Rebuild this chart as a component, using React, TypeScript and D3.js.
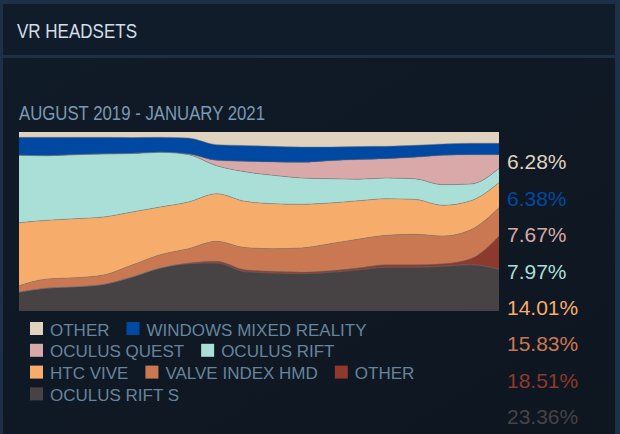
import React, { useRef, useEffect } from 'react';
import * as d3 from 'd3';

// monthly Steam survey points, Aug 2019 .. Jan 2021
const months = [
  'Aug 2019', 'Sep 2019', 'Oct 2019', 'Nov 2019', 'Dec 2019', 'Jan 2020',
  'Feb 2020', 'Mar 2020', 'Apr 2020', 'May 2020', 'Jun 2020', 'Jul 2020',
  'Aug 2020', 'Sep 2020', 'Oct 2020', 'Nov 2020', 'Dec 2020', 'Jan 2021',
];

// shares in percent, one value per month
const otherTop = [2.96, 2.96, 2.96, 2.96, 3.07, 2.96, 3.35, 7.09, 7.54, 7.99, 8.38, 8.38, 8.1, 7.99, 7.43, 6.7, 6.31, 6.28];
const wmr = [10.06, 10.28, 9.72, 9.33, 8.94, 8.38, 8.94, 8.72, 8.83, 8.77, 8.55, 7.65, 7.26, 6.93, 6.7, 6.31, 6.37, 6.38];
const quest = [0, 0, 0, 0, 0, 0, 0.39, 3.02, 5.87, 7.43, 8.77, 10.06, 11.01, 10.78, 11.96, 16.42, 16.37, 7.67];
const rift = [37.65, 36.09, 35.75, 35.2, 32.68, 30.56, 26.42, 15.64, 16.48, 15.87, 14.69, 13.58, 12.07, 11.56, 11.51, 11.51, 9.33, 7.97];
const htcVive = [35.2, 32.79, 32.96, 32.4, 29.61, 26.65, 26.09, 26.59, 25.87, 25.14, 24.41, 22.74, 21.51, 20.45, 19.55, 17.15, 16.2, 14.01];
const valveIndex = [3.52, 5.03, 5.03, 5.2, 6.7, 7.43, 7.99, 11.17, 12.35, 12.63, 13.41, 15.08, 16.03, 16.42, 16.98, 15.47, 16.2, 15.83];
const otherRed = [0, 0, 0, 0, 0, 0, 0.39, 0.95, 1.06, 0.95, 0.95, 0.89, 1.12, 1.45, 1.45, 1.45, 3.35, 18.51];
const riftS = [10.61, 12.85, 13.58, 14.92, 18.99, 24.02, 26.42, 26.82, 22.01, 21.23, 20.84, 21.62, 22.91, 24.41, 24.41, 24.97, 25.87, 23.36];

// top of the stack first (legend + right hand labels order)
const seriesKeys = ['otherTop', 'wmr', 'quest', 'rift', 'htcVive', 'valveIndex', 'otherRed', 'riftS'];
const seriesNames = ['OTHER', 'WINDOWS MIXED REALITY', 'OCULUS QUEST', 'OCULUS RIFT', 'HTC VIVE', 'VALVE INDEX HMD', 'OTHER', 'OCULUS RIFT S'];
const seriesColors = ['#dfd2bf', '#0049a2', '#d9a8a9', '#aadfd7', '#f6ac6a', '#c97851', '#8d392b', '#474344'];

const title = 'VR HEADSETS';
const subtitle = 'AUGUST 2019 - JANUARY 2021';

const W = 620;
const H = 434;

const App = () => {
  const svgRef = useRef<SVGSVGElement>(null);

  useEffect(() => {
    const values: Record<string, number[]> = { otherTop, wmr, quest, rift, htcVive, valveIndex, otherRed, riftS };
    const table = months.map((m, i) => {
      const row: any = { month: m };
      seriesKeys.forEach((k) => (row[k] = values[k][i]));
      return row;
    });

    const svg = d3.select(svgRef.current);
    svg.selectAll('*').remove();

    const defs = svg.append('defs');
    const grad = defs.append('linearGradient').attr('id', 'bodyGrad').attr('x1', 0).attr('y1', 0).attr('x2', 1).attr('y2', 1);
    grad.append('stop').attr('offset', '0%').attr('stop-color', '#101b28');
    grad.append('stop').attr('offset', '100%').attr('stop-color', '#0e1620');

    // frame + panel
    svg.append('rect').attr('width', W).attr('height', H).attr('fill', '#1e3048');
    svg.append('rect').attr('x', 3).attr('y', 4).attr('width', 612).attr('height', 51).attr('fill', '#111c2a');
    svg.append('rect').attr('x', 3).attr('y', 58).attr('width', 612).attr('height', H - 58).attr('fill', 'url(#bodyGrad)');

    svg.append('text')
      .attr('x', 17).attr('y', 37.5)
      .attr('font-size', 21)
      .attr('textLength', 120).attr('lengthAdjust', 'spacingAndGlyphs')
      .attr('fill', '#d2dee8')
      .text(title);

    svg.append('text')
      .attr('x', 19).attr('y', 120)
      .attr('font-size', 19.5)
      .attr('textLength', 246).attr('lengthAdjust', 'spacingAndGlyphs')
      .attr('fill', '#7b99b2')
      .text(subtitle);

    const x = d3.scalePoint<string>().domain(months).range([19, 499]);
    const y = d3.scaleLinear().domain([0, 1]).range([311, 132]);

    const stack = d3.stack<any>()
      .keys(seriesKeys.slice().reverse())
      .offset(d3.stackOffsetExpand);
    const layers = stack(table);

    const color = d3.scaleOrdinal<string, string>().domain(seriesKeys).range(seriesColors);

    const area = d3.area<any>()
      .x((d) => x(d.data.month) as number)
      .y0((d) => y(d[0]))
      .y1((d) => y(d[1]))
      .curve(d3.curveMonotoneX);

    const line = d3.line<any>()
      .x((d) => x(d.data.month) as number)
      .y((d) => y(d[1]))
      .curve(d3.curveMonotoneX);

    const g = svg.append('g');
    g.selectAll('path.layer')
      .data(layers)
      .join('path')
      .attr('class', 'layer')
      .attr('d', area)
      .attr('fill', (d) => color(d.key));

    g.selectAll('path.edge')
      .data(layers.slice(0, -1))
      .join('path')
      .attr('class', 'edge')
      .attr('d', line)
      .attr('fill', 'none')
      .attr('stroke', '#7d7d7d')
      .attr('stroke-opacity', 0.7)
      .attr('stroke-width', 0.7);

    // last month shares at the right
    const fmt = d3.format('.2f');
    const last = months.length - 1;
    svg.append('g')
      .selectAll('text')
      .data(seriesKeys)
      .join('text')
      .attr('x', 507)
      .attr('y', (d, i) => 169.3 + i * 36.4)
      .attr('font-size', 21)
      .attr('fill', (d) => color(d))
      .text((d) => fmt(values[d][last]) + '%');

    // flowing legend
    const legend = svg.append('g');
    const maxRight = 430;
    let lx = 30;
    let row = 0;
    seriesKeys.forEach((k, i) => {
      const item = legend.append('g');
      const t = item.append('text')
        .attr('font-size', 17)
        .attr('fill', '#67849d')
        .text(seriesNames[i]);
      const tw = (t.node() as SVGTextElement).getComputedTextLength();
      if (lx > 30 && lx + 20 + tw > maxRight) {
        lx = 30;
        row += 1;
      }
      const base = 335.5 + row * 21.8;
      item.append('rect')
        .attr('x', lx).attr('y', base - 13.5)
        .attr('width', 13).attr('height', 13)
        .attr('fill', color(k));
      t.attr('x', lx + 20).attr('y', base);
      lx += 20 + tw + 17;
    });
  }, []);

  return (
    <div id='vr-chart'>
      <svg
        ref={svgRef}
        width={W}
        height={H}
        style={{ position: 'absolute', left: 0, top: 0, display: 'block', fontFamily: '"Liberation Sans", Arial, sans-serif' }}
      ></svg>
    </div>
  );
};

export default App;
